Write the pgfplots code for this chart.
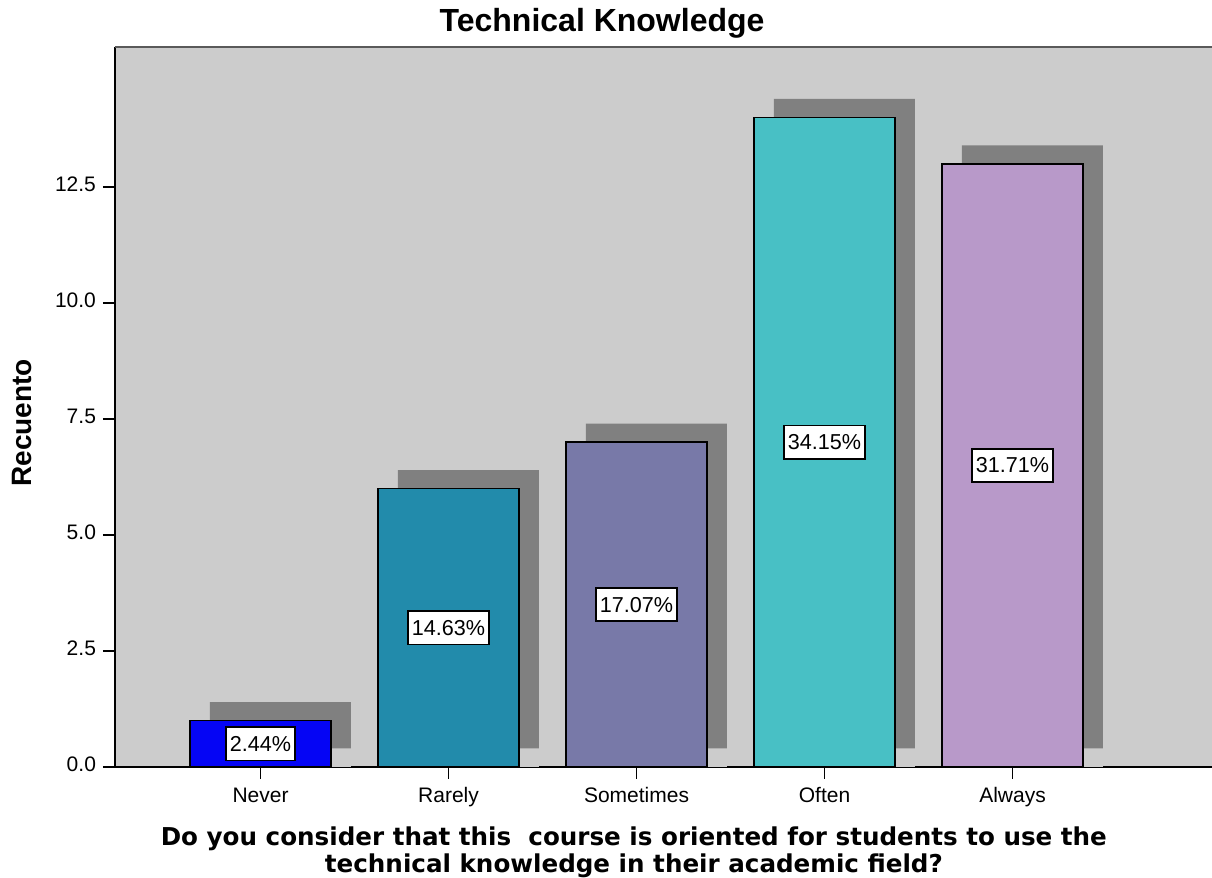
\documentclass[border=0pt]{standalone}
\usepackage{fontspec}
\setmainfont{Liberation Sans}
\newfontfamily\verd{DejaVu Sans}
\usepackage{pgfplots}
\pgfplotsset{compat=1.18}

\definecolor{bg}{RGB}{204,204,204}
\definecolor{shad}{RGB}{128,128,128}
\definecolor{cNever}{RGB}{5,5,245}
\definecolor{cRarely}{RGB}{34,139,171}
\definecolor{cSometimes}{RGB}{120,121,168}
\definecolor{cOften}{RGB}{72,192,197}
\definecolor{cAlways}{RGB}{184,153,201}

\begin{document}
\begin{tikzpicture}
\path[use as bounding box] (-57.5pt,-55.5pt) rectangle (548.5pt,383.5pt);
\begin{axis}[
    scale only axis,
    width=548.5pt, height=360pt,
    xmin=-0.774, xmax=5.061,
    ymin=0, ymax=15.52,
    axis x line*=bottom, axis y line*=left,
    axis line style={-, black, line width=0.8pt},
    axis background/.style={fill=bg},
    bar width=0.75,
    xtick={0,1,2,3,4},
    xticklabels={Never,Rarely,Sometimes,Often,Always},
    ytick={0,2.5,5,7.5,10,12.5},
    yticklabel style={/pgf/number format/.cd, fixed, fixed zerofill, precision=1},
    /pgf/number format/assume math mode=true,
    ticklabel style={font=\fontsize{10.5}{12}\selectfont},
    typeset ticklabels with strut,
    tick align=outside,
    major tick length=6pt,
    tick style={black, line width=0.8pt},
    title={Technical Knowledge},
    title style={font=\bfseries\fontsize{16}{19}\selectfont, at={(0.444,1)}, anchor=base, yshift=1.5pt, inner sep=0pt},
    xlabel={Do you consider that this\ \ course is oriented for students to use the\\technical knowledge in their academic field?},
    xlabel style={font=\verd\bfseries\fontsize{12.3}{13.5}\selectfont, align=center, at={(0.473,0)}, anchor=north, yshift=-29.5pt, inner sep=0pt},
    ylabel={Recuento},
    ylabel style={font=\bfseries\fontsize{14}{16}\selectfont, at={(-0.0848,0.478)}, anchor=center, inner sep=0pt},
    after end axis/.code={\draw[shad!70!black, line width=1pt] (rel axis cs:0,1) -- (rel axis cs:1,1);},
]
% drop shadows
\addplot[ybar, bar shift=0.106, fill=shad, draw=none] coordinates {(0,1.4) (1,6.4) (2,7.4) (3,14.4) (4,13.4)};
\addplot[ybar, bar shift=0.106, fill=bg, draw=none] coordinates {(0,0.4) (1,0.4) (2,0.4) (3,0.4) (4,0.4)};
% bars
\addplot[ybar, bar shift=0, fill=cNever, draw=black, line width=0.8pt] coordinates {(0,1)};
\addplot[ybar, bar shift=0, fill=cRarely, draw=black, line width=0.8pt] coordinates {(1,6)};
\addplot[ybar, bar shift=0, fill=cSometimes, draw=black, line width=0.8pt] coordinates {(2,7)};
\addplot[ybar, bar shift=0, fill=cOften, draw=black, line width=0.8pt] coordinates {(3,14)};
\addplot[ybar, bar shift=0, fill=cAlways, draw=black, line width=0.8pt] coordinates {(4,13)};
% percentage labels
\addplot[draw=none, mark=none, nodes near coords, point meta=explicit symbolic,
    nodes near coords style={anchor=center, fill=white, draw=black, line width=0.8pt,
        inner xsep=2pt, inner ysep=4.5pt, font=\fontsize{10.8}{12}\selectfont}]
    coordinates {(0,0.5)[2.44\%] (1,3)[14.63\%] (2,3.5)[17.07\%] (3,7)[34.15\%] (4,6.5)[31.71\%]};
\end{axis}
\end{tikzpicture}
\end{document}
